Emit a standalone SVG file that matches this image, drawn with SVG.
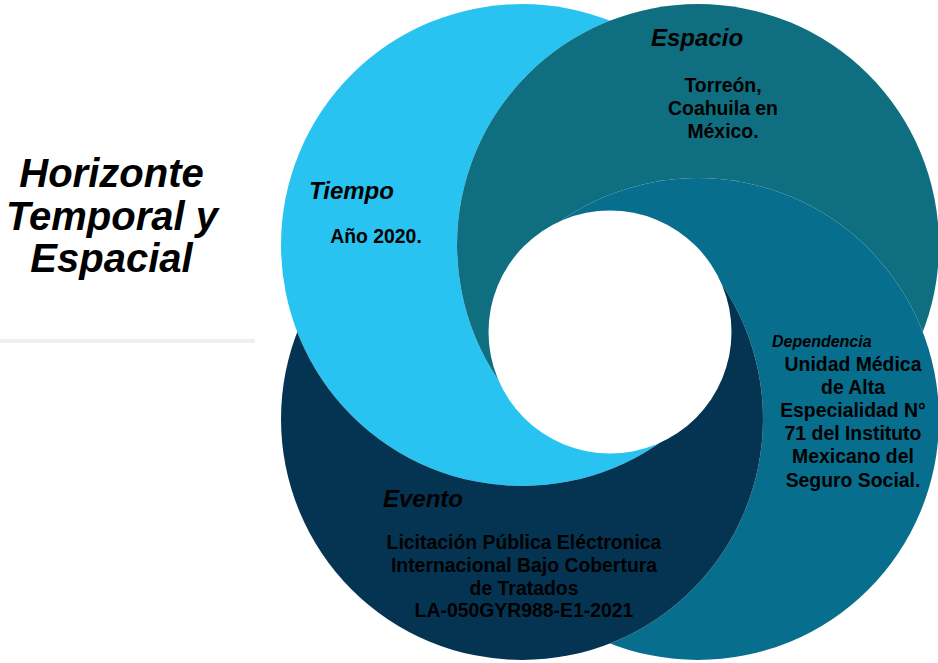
<svg xmlns="http://www.w3.org/2000/svg" width="938" height="663" viewBox="0 0 938 663">
<style>
  .ti{font-family:"Liberation Sans",Arial,sans-serif;font-weight:bold;font-style:italic;fill:#000}
  .big{font-size:40px;text-anchor:middle}
  .h{font-size:24px}
  .sm{font-size:16px}
  .body{font-family:"Liberation Sans",Arial,sans-serif;font-weight:bold;font-size:19.4px;fill:#000;text-anchor:middle}
</style>
<defs>
  <circle id="cLB" cx="522" cy="245" r="241"/>
  <circle id="cT" cx="698" cy="245" r="241"/>
  <circle id="cB" cx="698" cy="419" r="241"/>
  <circle id="cN" cx="522" cy="419" r="241"/>
  <clipPath id="notBottom"><polygon points="610,332 -390,1332 -1000,-1000 2000,-1000 1610,1332"/></clipPath>
  <clipPath id="notLeft"><polygon points="610,332 -390,-668 2000,-1000 2000,2000 -390,1332"/></clipPath>
  <clipPath id="notTop"><polygon points="610,332 1610,-668 2000,2000 -1000,2000 -390,-668"/></clipPath>
  <clipPath id="notRight"><polygon points="610,332 1610,1332 -1000,2000 -1000,-1000 1610,-668"/></clipPath>
  <mask id="mLB" maskUnits="userSpaceOnUse" x="0" y="0" width="938" height="663">
    <rect width="938" height="663" fill="#fff"/>
    <use href="#cT" fill="#000" clip-path="url(#notBottom)"/>
  </mask>
  <mask id="mT" maskUnits="userSpaceOnUse" x="0" y="0" width="938" height="663">
    <rect width="938" height="663" fill="#fff"/>
    <use href="#cB" fill="#000" clip-path="url(#notLeft)"/>
  </mask>
  <mask id="mB" maskUnits="userSpaceOnUse" x="0" y="0" width="938" height="663">
    <rect width="938" height="663" fill="#fff"/>
    <use href="#cN" fill="#000" clip-path="url(#notTop)"/>
  </mask>
  <mask id="mN" maskUnits="userSpaceOnUse" x="0" y="0" width="938" height="663">
    <rect width="938" height="663" fill="#fff"/>
    <use href="#cLB" fill="#000" clip-path="url(#notRight)"/>
  </mask>
</defs>
<rect width="938" height="663" fill="#fff"/>

<g id="title">
  <text class="ti big" x="111.5" y="187">Horizonte</text>
  <text class="ti big" x="112" y="229.5">Temporal y</text>
  <text class="ti big" x="111.5" y="272">Espacial</text>
  <rect x="0" y="339" width="255" height="4" fill="#eef0f0"/>
</g>

<g id="tiempo">
  <use href="#cLB" fill="#29C3F1" mask="url(#mLB)"/>
  <text class="ti h" x="309" y="199">Tiempo</text>
  <text class="body" x="376" y="243">Año 2020.</text>
</g>

<g id="espacio">
  <use href="#cT" fill="#0F6F80" mask="url(#mT)"/>
  <text class="ti h" x="651" y="46">Espacio</text>
  <text class="body" x="723" y="92">Torreón,</text>
  <text class="body" x="723" y="115">Coahuila en</text>
  <text class="body" x="723" y="138">México.</text>
</g>

<g id="dependencia">
  <use href="#cB" fill="#076E8E" mask="url(#mB)"/>
  <text class="ti sm" x="772" y="347">Dependencia</text>
  <text class="body" x="853" y="371">Unidad Médica</text>
  <text class="body" x="853" y="394">de Alta</text>
  <text class="body" x="853" y="417">Especialidad N°</text>
  <text class="body" x="853" y="440">71 del Instituto</text>
  <text class="body" x="853" y="463">Mexicano del</text>
  <text class="body" x="853" y="487">Seguro Social.</text>
</g>

<g id="evento">
  <use href="#cN" fill="#053452" mask="url(#mN)"/>
  <text class="ti h" x="383" y="507">Evento</text>
  <text class="body" x="524" y="549">Licitación Pública Eléctronica</text>
  <text class="body" x="524" y="572">Internacional Bajo Cobertura</text>
  <text class="body" x="524" y="595">de Tratados</text>
  <text class="body" x="524" y="617">LA-050GYR988-E1-2021</text>
</g>

<g id="centro">
  <circle cx="610" cy="332" r="121.5" fill="#fff"/>
</g>
</svg>
